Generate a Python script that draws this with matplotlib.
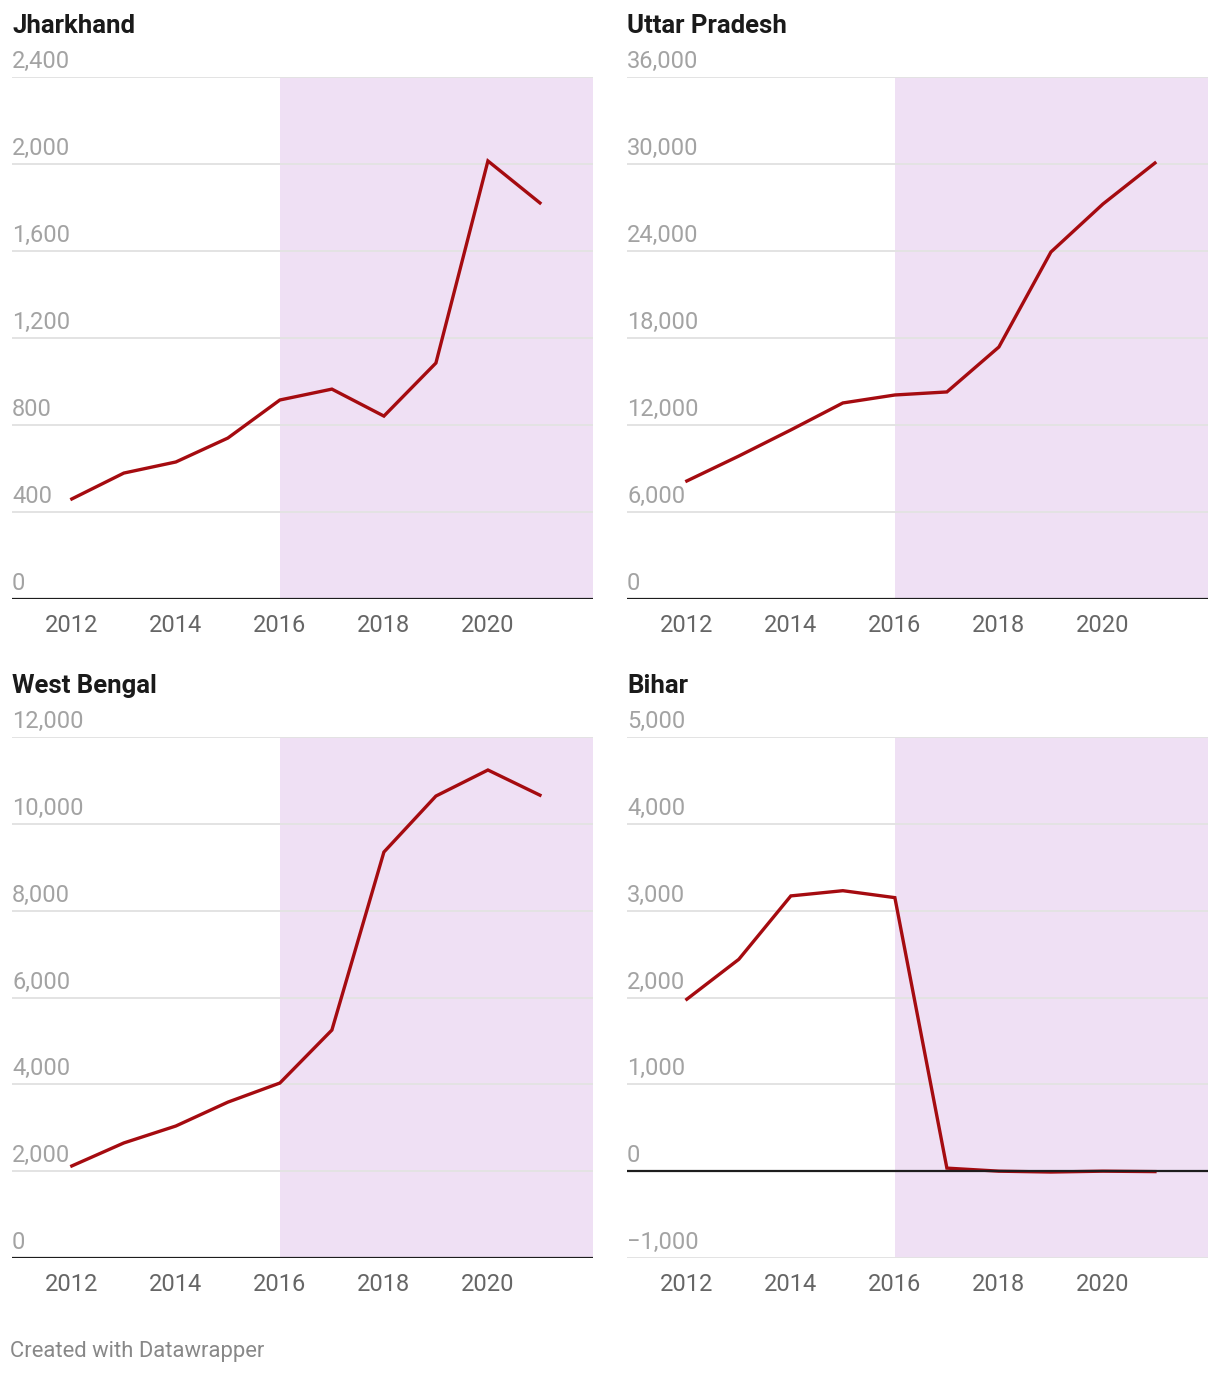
import matplotlib
matplotlib.use("Agg")
import matplotlib.pyplot as plt
import matplotlib.transforms as mtrans

plt.rcParams['font.family'] = ['Roboto', 'DejaVu Sans']

years = [2012, 2013, 2014, 2015, 2016, 2017, 2018, 2019, 2020, 2021]

jharkhand = [460, 579, 630, 740, 915, 965, 841, 1085, 2014, 1821]
uttar_pradesh = [8140, 9860, 11660, 13520, 14070, 14280, 17380, 23930, 27240, 30070]
west_bengal = [2120, 2650, 3040, 3590, 4030, 5250, 9350, 10640, 11240, 10660]
bihar = [1980, 2440, 3170, 3230, 3150, 35, 0, -10, 0, -5]

titles = ["Jharkhand", "Uttar Pradesh", "West Bengal", "Bihar"]
yticks = [
    [0, 400, 800, 1200, 1600, 2000, 2400],
    [0, 6000, 12000, 18000, 24000, 30000, 36000],
    [0, 2000, 4000, 6000, 8000, 10000, 12000],
    [-1000, 0, 1000, 2000, 3000, 4000, 5000],
]
xticks = [2012, 2014, 2016, 2018, 2020]
shade_start = 2016

W, H = 1220, 1374
fig = plt.figure(figsize=(W / 100, H / 100), dpi=100)

LINE = '#a50b10'
SHADE = '#efe0f4'
GRID = '#e3e3e3'

# pixel boxes (left, top, right, bottom)
boxes = [(12, 77, 593, 599), (627, 77, 1208, 599),
         (12, 737, 593, 1258), (627, 737, 1208, 1258)]
series = [jharkhand, uttar_pradesh, west_bengal, bihar]


def fmt(v):
    s = "{:,}".format(abs(v))
    return ("\u2212" + s) if v < 0 else s


for (l, t, r, b), title, vals, yt in zip(boxes, titles, series, yticks):
    ax = fig.add_axes([l / W, 1 - b / H, (r - l) / W, (b - t) / H])
    ax.set_xlim(2010.85, 2022.02)
    ax.set_ylim(yt[0], yt[-1])
    ax.axvspan(shade_start, 2022.02, color=SHADE, lw=0, zorder=0)
    for v in yt:
        if v == 0:
            ax.axhline(v, color='#1d1d1d', lw=1.6, zorder=4)
        else:
            ax.axhline(v, color=GRID, lw=1.4, zorder=1)
        tr = mtrans.offset_copy(ax.get_yaxis_transform(), fig=fig, x=0, y=9, units='dots')
        ax.text(0, v, fmt(v), transform=tr, ha='left', va='baseline',
                fontsize=17, color='#a3a3a3', zorder=5)
    ax.plot(years, vals, color=LINE, lw=2.4, zorder=3, solid_joinstyle='miter')
    for s in ax.spines.values():
        s.set_visible(False)
    ax.set_yticks([])
    ax.set_xticks(xticks)
    ax.set_xticklabels([str(x) for x in xticks])
    ax.tick_params(axis='x', length=0, pad=11, labelsize=17, labelcolor='#666666')
    ax.patch.set_alpha(0)
    fig.text(l / W, 1 - (t - 51) / H, title, fontsize=18.5, fontweight='bold',
             color='#1a1a1a', ha='left', va='center')

fig.text(10 / W, 1 - 1351 / H, "Created with Datawrapper", fontsize=15.8,
         color='#888888', ha='left', va='center')

fig.savefig("out.png", dpi=100, facecolor='white')
